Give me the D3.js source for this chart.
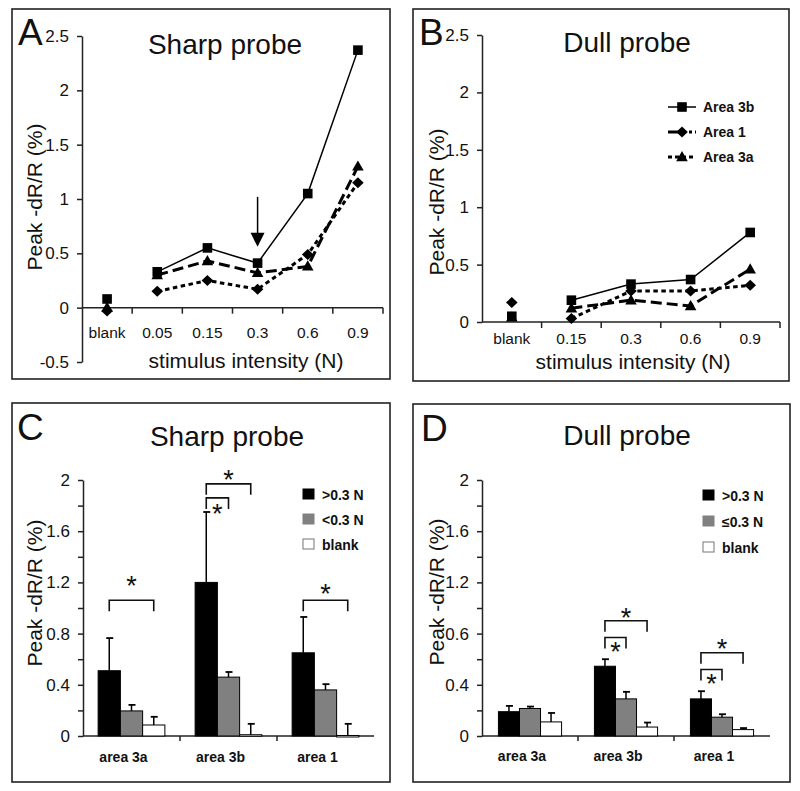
<!DOCTYPE html>
<html><head><meta charset="utf-8">
<script src="https://cdn.jsdelivr.net/npm/d3@7"></script>
<style>body{margin:0;background:#fff} text{font-family:"Liberation Sans",Arial,Helvetica,sans-serif;fill:#111}</style>
</head><body>
<svg id="chart" width="800" height="791"></svg>
<script>
// ---------- DATA ----------
// Panel A (sharp probe, line)
const catsA = ['blank','0.05','0.15','0.3','0.6','0.9'];
const area3bA = [0.08,0.33,0.55,0.41,1.05,2.37];
const area1A  = [-0.03,0.15,0.25,0.17,0.49,1.15];
const area3aA = [0.00,0.30,0.43,0.32,0.38,1.30];
const yTicksA = [-0.5,0,0.5,1,1.5,2,2.5];
const yTickLabelsA = ['-0.5','0','0.5','1','1.5','2','2.5'];
// Panel B (dull probe, line)
const catsB = ['blank','0.15','0.3','0.6','0.9'];
const area3bB = [0.05,0.19,0.33,0.37,0.78];
const area1B  = [0.17,0.03,0.27,0.27,0.32];
const area3aB = [0.04,0.12,0.19,0.14,0.46];
const yTicksB = [0,0.5,1,1.5,2,2.5];
const yTickLabelsB = ['0','0.5','1','1.5','2','2.5'];
// Panel C (sharp probe, bars)
const groups = ['area 3a','area 3b','area 1'];
const seriesC = ['>0.3 N','<0.3 N','blank'];
const highC = [0.51,1.20,0.65],  highErrC = [0.255,0.55,0.28];
const lowC  = [0.196,0.46,0.36], lowErrC  = [0.047,0.04,0.045];
const blankC= [0.086,0.01,0.004], blankErrC= [0.064,0.085,0.091];
// Panel D (dull probe, bars)
const seriesD = ['>0.3 N','\u22640.3 N','blank'];
const highD = [0.19,0.545,0.29],  highErrD = [0.045,0.055,0.06];
const lowD  = [0.215,0.29,0.147], lowErrD  = [0.015,0.055,0.023];
const blankD= [0.11,0.07,0.05],   blankErrD= [0.07,0.035,0.012];
const yTicksBar = [0,0.2,0.4,0.6,0.8,1,1.2,1.4,1.6,1.8,2];
const yLabelsC = {0:'0',0.4:'0.4',0.8:'0.8',1.2:'1.2',1.6:'1.6',2:'2'};
const yLabelsD = {0:'0',0.4:'0.4',0.8:'0.6',1.2:'1.2',1.6:'1.6',2:'2'};
// significance brackets: group, from series index, to series index, bracket level, star level
const sigC = [
  {g:'area 3a', a:0, b:2, y:1.06, star:1.22},
  {g:'area 3b', a:0, b:2, y:1.97, star:2.05},
  {g:'area 3b', a:0, b:1, y:1.86, star:1.78},
  {g:'area 1',  a:0, b:2, y:1.06, star:1.16}
];
const sigD = [
  {g:'area 3b', a:0, b:2, y:0.90, star:0.97},
  {g:'area 3b', a:0, b:1, y:0.77, star:0.70},
  {g:'area 1',  a:0, b:2, y:0.65, star:0.73},
  {g:'area 1',  a:0, b:1, y:0.52, star:0.45}
];

// ---------- DRAW ----------
const svg = d3.select('#chart');
const FONT = '"Liberation Sans",Arial,sans-serif';

function shapePath(shape){
  if(shape==='square') return 'M-4.8,-4.8h9.6v9.6h-9.6z';
  if(shape==='diamond') return 'M0,-5.5L5.8,0L0,5.5L-5.8,0Z';
  return 'M0,-6L5.8,4.2L-5.8,4.2Z';
}

function frame(f){
  svg.append('rect').attr('x',f[0]).attr('y',f[1]).attr('width',f[2]-f[0]).attr('height',f[3]-f[1])
    .attr('fill','none').attr('stroke','#222').attr('stroke-width',1.6);
}
function txt(x,y,s,size,opts={}){
  const t = svg.append('text').attr('x',x).attr('y',y).text(s).attr('font-size',size)
    .attr('text-anchor',opts.anchor||'start');
  if(opts.bold) t.attr('font-weight','bold');
  if(opts.rotate) t.attr('transform',`rotate(-90,${x},${y})`);
  return t;
}

function linePanel(c){
  frame(c.frame);
  const x = d3.scaleBand().domain(c.cats).range(c.xRange).padding(0);
  const y = d3.scaleLinear().domain(c.yDomain).range(c.yRange);
  const g = svg.append('g');
  // y axis
  const ax = d3.axisLeft(y).tickValues(c.yTicks).tickFormat((d,i)=>c.yTickLabels[i]).tickSize(5).tickSizeOuter(0).tickPadding(8);
  const ga = g.append('g').attr('transform',`translate(${c.xRange[0]},0)`).call(ax);
  ga.selectAll('path,line').attr('stroke','#222').attr('stroke-width',1.5);
  ga.selectAll('text').attr('font-size',17).attr('font-family',FONT).attr('fill','#111');
  // x axis
  const y0 = y(0);
  g.append('line').attr('x1',c.xRange[0]).attr('x2',c.xRange[1]).attr('y1',y0).attr('y2',y0).attr('stroke','#222').attr('stroke-width',1.5);
  c.cats.slice(1).concat(['__end']).forEach((k)=>{
    const xx = k==='__end' ? c.xRange[1] : x(k);
    g.append('line').attr('x1',xx).attr('x2',xx).attr('y1',y0).attr('y2',y0+6).attr('stroke','#222').attr('stroke-width',1.5);
  });
  c.cats.forEach(k=>{
    txt(x(k)+x.bandwidth()/2, c.xLabelY, k, 15.5, {anchor:'middle'});
  });
  const cx = k=>x(k)+x.bandwidth()/2;
  // series
  c.series.forEach(s=>{
    const pts = c.cats.map((k,i)=>[k,s.values[i]]).slice(1);
    g.append('path').datum(pts)
      .attr('d', d3.line().x(d=>cx(d[0])).y(d=>y(d[1])))
      .attr('fill','none').attr('stroke','#000').attr('stroke-width',s.width)
      .attr('stroke-dasharray',s.dash||null);
  });
  c.series.forEach(s=>{
    g.selectAll(null).data(c.cats.map((k,i)=>[k,s.values[i]])).join('path')
      .attr('d',shapePath(s.shape)).attr('transform',d=>`translate(${cx(d[0])},${y(d[1])})`).attr('fill','#000');
  });
  // arrow
  if(c.arrow){
    const ax0 = cx(c.arrow.cat), yt = y(c.arrow.from), yb = y(c.arrow.to);
    g.append('line').attr('x1',ax0).attr('x2',ax0).attr('y1',yt).attr('y2',yb-12).attr('stroke','#000').attr('stroke-width',1.5);
    g.append('path').attr('d',`M${ax0-7},${yb-14}L${ax0+7},${yb-14}L${ax0},${yb}Z`).attr('fill','#000');
  }
  // texts
  txt(c.letter[1], c.letter[2], c.letter[0], 37);
  txt(c.title[1], c.title[2], c.title[0], 28, {anchor:'middle'});
  txt(c.ylab[0], c.ylab[1], 'Peak -dR/R (%)', 21, {anchor:'middle', rotate:true});
  txt(c.xtitle[0], c.xtitle[1], 'stimulus intensity (N)', 21, {anchor:'middle'});
  // legend
  if(c.legend){
    c.series.forEach((s,i)=>{
      const ly = c.legend.y + i*c.legend.dy;
      g.append('line').attr('x1',c.legend.x).attr('x2',c.legend.x+28).attr('y1',ly).attr('y2',ly)
        .attr('stroke','#000').attr('stroke-width',s.legendWidth).attr('stroke-dasharray',s.legendDash||null);
      g.append('path').attr('d',shapePath(s.shape)).attr('transform',`translate(${c.legend.x+14},${ly})`).attr('fill','#000');
      txt(c.legend.x+35, ly+5, s.name, 14, {bold:true});
    });
  }
}

linePanel({
  frame:[12,9,390,379], cats:catsA, xRange:[82,383], yDomain:[-0.5,2.5], yRange:[362,36],
  yTicks:yTicksA, yTickLabels:yTickLabelsA, xLabelY:338,
  series:[
    {name:'Area 3a', values:area3aA, shape:'triangle', dash:'11,5', width:3},
    {name:'Area 1', values:area1A, shape:'diamond', dash:'4.5,3.5', width:3},
    {name:'Area 3b', values:area3bA, shape:'square', width:1.5}
  ],
  arrow:{cat:'0.3', from:1.02, to:0.56},
  letter:['A',18,45], title:['Sharp probe',225,54], ylab:[42,197], xtitle:[246,368]
});

linePanel({
  frame:[413,9,789,381], cats:catsB, xRange:[482,780], yDomain:[0,2.5], yRange:[322,35],
  yTicks:yTicksB, yTickLabels:yTickLabelsB, xLabelY:344,
  series:[
    {name:'Area 3b', values:area3bB, shape:'square', width:1.5, legendWidth:1.5},
    {name:'Area 1', values:area1B, shape:'diamond', dash:'4.5,3.5', width:3, legendWidth:3, legendDash:'18,3,3,3'},
    {name:'Area 3a', values:area3aB, shape:'triangle', dash:'11,5', width:3, legendWidth:3, legendDash:'4,3'}
  ],
  legend:{x:668, y:107, dy:25},
  letter:['B',419,45], title:['Dull probe',627,52], ylab:[444,202], xtitle:[633,369]
});

function barPanel(c){
  frame(c.frame);
  const x = d3.scaleBand().domain(groups).range(c.xRange).padding(0);
  const xs = d3.scaleBand().domain([0,1,2]).range([0,x.bandwidth()]).paddingInner(0).paddingOuter(c.outer);
  const y = d3.scaleLinear().domain([0,2]).range([736,480]);
  const g = svg.append('g');
  const ax = d3.axisLeft(y).tickValues(yTicksBar).tickFormat(d=>c.yLabels[d]!==undefined?c.yLabels[d]:'').tickSize(5).tickSizeOuter(0).tickPadding(8);
  const ga = g.append('g').attr('transform',`translate(${c.xRange[0]},0)`).call(ax);
  ga.selectAll('path,line').attr('stroke','#222').attr('stroke-width',1.5);
  ga.selectAll('text').attr('font-size',17).attr('font-family',FONT).attr('fill','#111');
  g.append('line').attr('x1',c.xRange[0]).attr('x2',c.xRange[1]).attr('y1',y(0)).attr('y2',y(0)).attr('stroke','#222').attr('stroke-width',1.5);
  groups.slice(1).forEach(k=>{
    g.append('line').attr('x1',x(k)).attr('x2',x(k)).attr('y1',y(0)).attr('y2',y(0)+5).attr('stroke','#222').attr('stroke-width',1.5);
  });
  const fills = ['#000','#808080','#fff'];
  const bars = [];
  c.values.forEach((vals,si)=>{
    groups.forEach((gr,gi)=>{
      bars.push({gr, si, v:vals[gi], e:c.errs[si][gi]});
    });
  });
  const bx = d=>x(d.gr)+xs(d.si);
  g.selectAll('rect.bar').data(bars).join('rect').attr('class','bar')
    .attr('x',bx).attr('width',xs.bandwidth()).attr('y',d=>y(d.v)).attr('height',d=>Math.max(1.5,y(0)-y(d.v)))
    .attr('fill',d=>fills[d.si]).attr('stroke','#000').attr('stroke-width',1);
  bars.forEach(d=>{
    const mx = bx(d)+xs.bandwidth()/2;
    g.append('line').attr('x1',mx).attr('x2',mx).attr('y1',y(d.v)).attr('y2',y(d.v+d.e)).attr('stroke','#000').attr('stroke-width',1.5);
    g.append('line').attr('x1',mx-3).attr('x2',mx+4).attr('y1',y(d.v+d.e)).attr('y2',y(d.v+d.e)).attr('stroke','#000').attr('stroke-width',1.8);
  });
  groups.forEach(k=>txt(x(k)+x.bandwidth()/2-8, c.catLabelY, k, 14, {anchor:'middle', bold:true}));
  // brackets
  c.sig.forEach(s=>{
    const xa = x(s.g)+xs(s.a)+xs.bandwidth()/2, xb = x(s.g)+xs(s.b)+xs.bandwidth()/2, yy = y(s.y);
    g.append('path').attr('d',`M${xa},${yy+11}V${yy}H${xb}V${yy+11}`).attr('fill','none').attr('stroke','#111').attr('stroke-width',1.6);
    txt((xa+xb)/2, y(s.star)+15, '*', 27, {anchor:'middle'});
  });
  // legend
  c.series.forEach((s,i)=>{
    const ly = c.legend.y + i*c.legend.dy;
    g.append('rect').attr('x',c.legend.x).attr('y',ly-5).attr('width',11).attr('height',10)
      .attr('fill',fills[i]).attr('stroke', i===2?'#777':fills[i]).attr('stroke-width',1);
    txt(c.legend.x+19, ly+5.5, s, 14, {bold:true});
  });
  txt(c.letter[1], c.letter[2], c.letter[0], 37);
  txt(c.title[1], c.title[2], c.title[0], 28, {anchor:'middle'});
  txt(c.ylab[0], c.ylab[1], 'Peak -dR/R (%)', 21, {anchor:'middle', rotate:true});
}

barPanel({
  frame:[12,403,390,782], xRange:[83,374], outer:0.68,
  values:[highC,lowC,blankC], errs:[highErrC,lowErrC,blankErrC], yLabels:yLabelsC,
  series:seriesC, sig:sigC, legend:{x:303, y:494, dy:25}, catLabelY:762,
  letter:['C',17,440], title:['Sharp probe',227,446], ylab:[42,593]
});
barPanel({
  frame:[413,404,790,782], xRange:[482,770], outer:0.78,
  values:[highD,lowD,blankD], errs:[highErrD,lowErrD,blankErrD], yLabels:yLabelsD,
  series:seriesD, sig:sigD, legend:{x:703, y:495, dy:26}, catLabelY:761,
  letter:['D',421,441], title:['Dull probe',627,445], ylab:[444,592]
});
</script>
</body></html>
